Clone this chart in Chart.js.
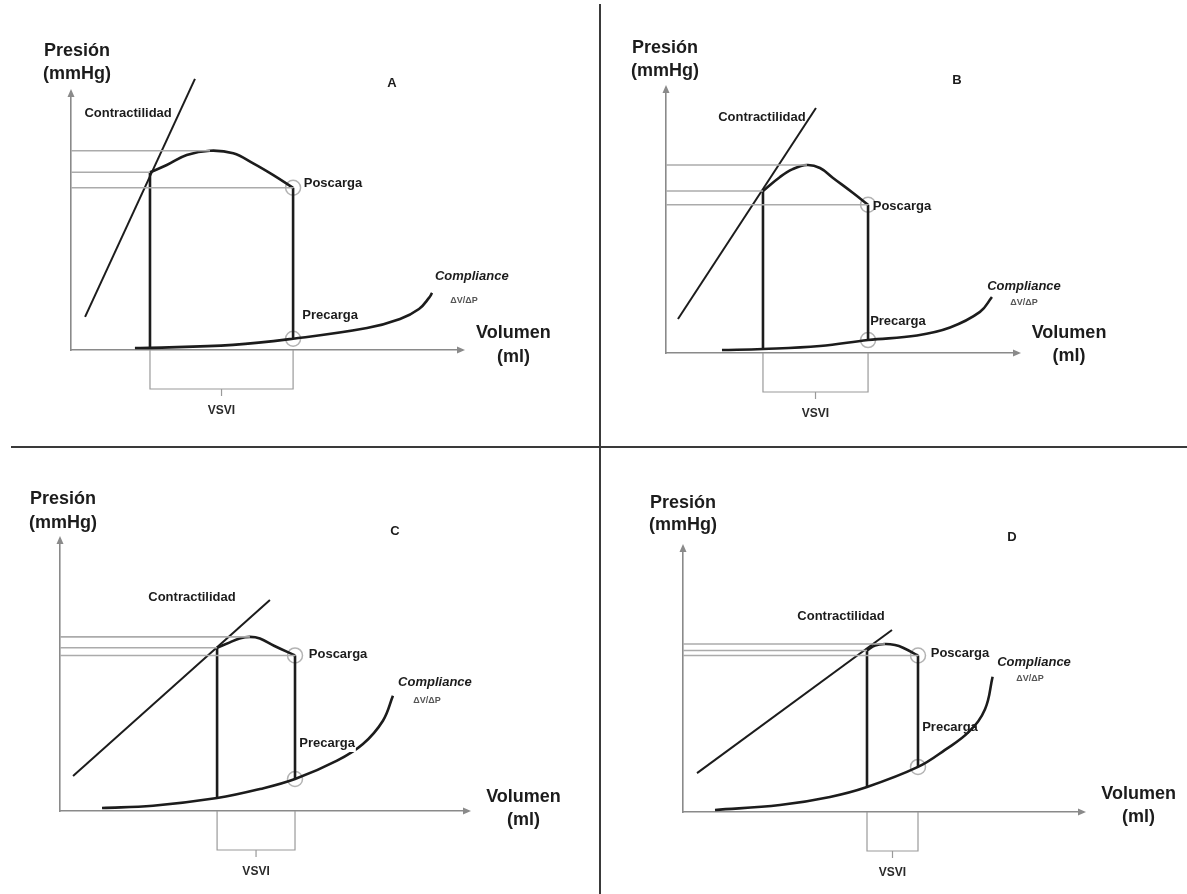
<!DOCTYPE html>
<html>
<head>
<meta charset="utf-8">
<script src="https://cdn.jsdelivr.net/npm/chart.js@4.4.1/dist/chart.umd.min.js"></script>
<style>
html,body{margin:0;padding:0;background:#fff;}
#wrap{position:relative;width:1187px;height:894px;overflow:hidden;background:#fff;}
#wrap canvas{position:absolute;left:0;top:0;}
.div-v{position:absolute;left:599px;top:4px;width:2px;height:890px;background:#3a3a3a;}
.div-h{position:absolute;left:11px;top:446px;width:1176px;height:2px;background:#3a3a3a;}
</style>
</head>
<body>
<div id="wrap">
  <div class="div-v"></div>
  <div class="div-h"></div>
  <canvas id="cA" width="1187" height="894"></canvas>
  <canvas id="cB" width="1187" height="894"></canvas>
  <canvas id="cC" width="1187" height="894"></canvas>
  <canvas id="cD" width="1187" height="894"></canvas>
</div>
<script>
// ===== DATA (volume in ml, pressure in mmHg; schematic values) =====
const panelNames = ['A', 'B', 'C', 'D'];
const axisLabels = { y: ['Presión', '(mmHg)'], x: ['Volumen', '(ml)'] };
const textLabels = { contract: 'Contractilidad', after: 'Poscarga', pre: 'Precarga', comp: 'Compliance', compSub: 'ΔV/ΔP', sv: 'VSVI' };
const volumeRange = [0, 200];
const pressureRange = [0, 160];

// Contractility (end-systolic pressure-volume line)
const espvrA = [[7.2, 20.5], [63.4, 168.1]];
const espvrB = [[6.8, 20.5], [85.2, 147.9]];
const espvrC = [[6.4, 20.6], [102.9, 124.1]];
const espvrD = [[7.0, 23.5], [104.5, 109.9]];

// Ejection phase (top of the loop)
const ejectA = [[40.4, 110.2], [49, 114.7], [59.2, 120.9], [71.1, 123.6], [83, 122], [93.2, 115.8], [103.5, 108.5], [113.6, 100.6]];
const ejectB = [[55.1, 97.8], [64.8, 106.3], [72, 111], [80.1, 113.5], [87.5, 111.7], [94.9, 105.7], [106.3, 96.6], [114.8, 89.5]];
const ejectC = [[77, 96], [83.3, 99.2], [88, 101.5], [93.1, 102.4], [98, 101.5], [104.9, 97.2], [115.2, 91.5]];
const ejectD = [[92, 97.5], [96, 100.5], [101, 101.4], [106, 100.8], [110, 99.2], [117.5, 94.5]];

// Isovolumetric relaxation (left side of loop)
const relaxA = [[40.4, 110.2], [40.4, 1.2]];
const relaxB = [[55.1, 97.8], [55.1, 2.4]];
const relaxC = [[77, 96], [77, 7.6]];
const relaxD = [[92, 97.5], [92, 15.1]];

// Isovolumetric contraction (right side of loop, preload -> afterload)
const isoContrA = [[113.6, 7.0], [113.6, 100.6]];
const isoContrB = [[114.8, 7.8], [114.8, 89.5]];
const isoContrC = [[115.2, 18.8], [115.2, 91.5]];
const isoContrD = [[117.5, 27.2], [117.5, 94.5]];

// Compliance (end-diastolic pressure-volume curve)
const complianceA = [[32.7, 1.2], [40.4, 1.3], [82.9, 3.2], [113.6, 7.0], [151.4, 13.6], [168.3, 19.2], [178, 25.4], [183.1, 32.3], [184.7, 35.4]];
const complianceB = [[31.8, 1.8], [55.1, 2.4], [87.5, 4.2], [114.8, 7.8], [142.6, 10.6], [161.4, 15.4], [178.4, 24.8], [185.2, 33.8]];
const complianceC = [[20.6, 1.8], [45.6, 3.1], [77, 7.6], [98, 12.9], [115.2, 18.8], [135.8, 29.6], [148.5, 39.4], [158.3, 53.1], [163.2, 67.8]];
const complianceD = [[16, 1.2], [48.5, 4.2], [73.5, 9.1], [92, 15.1], [117.5, 27.2], [131, 37.5], [143, 48.5], [151, 62], [154.8, 81.7]];

// ===== LAYOUT (pixel chart areas and label anchors, in data units) =====
const layouts = {
  A: { area: { left: 71, right: 462, top: 92, bottom: 350 },
       letter: [164.2, 165.6], presion: [3.1, 185.4], mmhg: [3.1, 171.2], volumen: [226.3, 10.5], ml: [226.3, -4.3],
       contract: [29.2, 147], after: [134, 103], pre: [132.5, 21.7], comp: [205, 45.9], compSub: [201, 30.4] },
  B: { area: { left: 666, right: 1018, top: 88, bottom: 353 },
       letter: [165.3, 164.8], presion: [-0.6, 184.2], mmhg: [-0.6, 170.3], volumen: [229, 12.1], ml: [229, -1.8],
       contract: [54.5, 142.2], after: [134.1, 88.2], pre: [131.8, 19.3], comp: [203.4, 39.9], compSub: [203.4, 30.2] },
  C: { area: { left: 60, right: 468, top: 539, bottom: 811 },
       letter: [164.2, 164.7], presion: [1.5, 183.5], mmhg: [1.5, 169.4], volumen: [227.2, 8.2], ml: [227.2, -5.3],
       contract: [64.7, 125.9], after: [136.3, 92.3], pre: [130.9, 40], comp: [183.8, 75.9], compSub: [179.9, 64.7] },
  D: { area: { left: 683, right: 1083, top: 547, bottom: 812 },
       letter: [164.5, 166], presion: [0, 186.6], mmhg: [0, 173.3], volumen: [227.8, 10.9], ml: [227.8, -3],
       contract: [79, 118.3], after: [138.5, 96], pre: [133.5, 51.3], comp: [175.5, 90.6], compSub: [173.5, 80.3] }
};
const preBoxed = { A: false, B: false, C: true, D: false };

const panelData = {
  A: { espvr: espvrA, eject: ejectA, relax: relaxA, iso: isoContrA, comp: complianceA },
  B: { espvr: espvrB, eject: ejectB, relax: relaxB, iso: isoContrB, comp: complianceB },
  C: { espvr: espvrC, eject: ejectC, relax: relaxC, iso: isoContrC, comp: complianceC },
  D: { espvr: espvrD, eject: ejectD, relax: relaxD, iso: isoContrD, comp: complianceD }
};

const FONT = '"Liberation Sans", Arial, Helvetica, sans-serif';
const INK = '#1c1c1c';
const AXIS = '#8a8a8a';
const REF = '#ababab';

const toXY = arr => arr.map(p => ({ x: p[0], y: p[1] }));

// Plugin: axis arrowheads, VSVI bracket, text labels
const decorPlugin = {
  id: 'decor',
  afterDatasetsDraw(chart) {
    const { ctx, scales: { x, y } } = chart;
    const name = chart.options.plugins.decor.name;
    const lay = layouts[name];
    const d = panelData[name];
    const px = v => x.getPixelForValue(v);
    const py = v => y.getPixelForValue(v);
    const x0 = px(volumeRange[0]), y0 = py(pressureRange[0]);
    const xe = px(volumeRange[1]), ye = py(pressureRange[1]);
    ctx.save();
    // arrowheads
    ctx.fillStyle = AXIS;
    ctx.beginPath(); ctx.moveTo(xe + 3, y0); ctx.lineTo(xe - 5, y0 - 3.5); ctx.lineTo(xe - 5, y0 + 3.5); ctx.closePath(); ctx.fill();
    ctx.beginPath(); ctx.moveTo(x0, ye - 3); ctx.lineTo(x0 - 3.5, ye + 5); ctx.lineTo(x0 + 3.5, ye + 5); ctx.closePath(); ctx.fill();
    // stroke-volume bracket
    const esv = d.relax[0][0], edv = d.iso[0][0];
    const bx1 = px(esv), bx2 = px(edv), by = y0 + 39, mid = (bx1 + bx2) / 2;
    ctx.strokeStyle = '#9a9a9a'; ctx.lineWidth = 1.2;
    ctx.beginPath();
    ctx.moveTo(bx1, y0); ctx.lineTo(bx1, by); ctx.lineTo(bx2, by); ctx.lineTo(bx2, y0);
    ctx.moveTo(mid, by); ctx.lineTo(mid, by + 7);
    ctx.stroke();
    ctx.fillStyle = '#2a2a2a';
    ctx.textAlign = 'center'; ctx.textBaseline = 'middle';
    ctx.font = 'bold 12px ' + FONT;
    ctx.fillText(textLabels.sv, mid, y0 + 61);
    // text labels
    const put = (txt, pos, font, color, boxed) => {
      ctx.font = font;
      const tx = px(pos[0]), ty = py(pos[1]);
      if (boxed) {
        const w = ctx.measureText(txt).width;
        ctx.fillStyle = '#fff';
        ctx.fillRect(tx - w / 2 - 1, ty - 9, w + 2, 18);
      }
      ctx.fillStyle = color || INK;
      ctx.fillText(txt, tx, ty);
    };
    put(name, lay.letter, 'bold 13px ' + FONT);
    put(axisLabels.y[0], lay.presion, 'bold 18px ' + FONT);
    put(axisLabels.y[1], lay.mmhg, 'bold 18px ' + FONT);
    put(axisLabels.x[0], lay.volumen, 'bold 18px ' + FONT);
    put(axisLabels.x[1], lay.ml, 'bold 18px ' + FONT);
    put(textLabels.contract, lay.contract, 'bold 13px ' + FONT);
    put(textLabels.after, lay.after, 'bold 13px ' + FONT);
    put(textLabels.pre, lay.pre, 'bold 13px ' + FONT, INK, preBoxed[name]);
    put(textLabels.comp, lay.comp, 'italic bold 13px ' + FONT);
    put(textLabels.compSub, lay.compSub, 'bold 9px ' + FONT, '#555');
    ctx.restore();
  }
};

function buildPanel(name) {
  const d = panelData[name];
  const lay = layouts[name];
  const top = d.eject.reduce((a, b) => (b[1] > a[1] ? b : a));
  const first = d.eject[0];
  const last = d.eject[d.eject.length - 1];
  const base = { showLine: true, pointRadius: 0, clip: false, fill: false, borderColor: INK };
  const ref = (p) => Object.assign({}, base, { data: [{ x: volumeRange[0], y: p[1] }, { x: p[0], y: p[1] }], borderColor: REF, borderWidth: 1.6 });
  const datasets = [
    ref(top), ref(first), ref(last),
    Object.assign({}, base, { label: 'Contractilidad', data: toXY(d.espvr), borderWidth: 2 }),
    Object.assign({}, base, { label: 'Compliance', data: toXY(d.comp), borderWidth: 2.6, tension: 0.4 }),
    Object.assign({}, base, { label: 'Relajación', data: toXY(d.relax), borderWidth: 2.6 }),
    Object.assign({}, base, { label: 'Contracción', data: toXY(d.iso), borderWidth: 2.6 }),
    Object.assign({}, base, { label: 'Eyección', data: toXY(d.eject), borderWidth: 2.6, tension: 0.4 }),
    { label: 'Puntos', data: [{ x: last[0], y: last[1] }, { x: d.iso[0][0], y: d.iso[0][1] }], showLine: false, clip: false,
      pointRadius: 7.5, pointBorderWidth: 1.5, pointBorderColor: '#b3b3b3', pointBackgroundColor: 'rgba(0,0,0,0)' }
  ];
  const W = 1187, H = 894;
  const axis = (min, max) => ({
    type: 'linear', min, max, display: true,
    grid: { display: false, drawTicks: false },
    ticks: { display: false },
    border: { display: true, color: AXIS, width: 1.6 }
  });
  return new Chart(document.getElementById('c' + name), {
    type: 'scatter',
    data: { datasets },
    options: {
      responsive: false, animation: false, events: [], devicePixelRatio: 1,
      layout: { padding: { left: lay.area.left, right: W - lay.area.right, top: lay.area.top, bottom: H - lay.area.bottom } },
      scales: { x: axis(volumeRange[0], volumeRange[1]), y: axis(pressureRange[0], pressureRange[1]) },
      plugins: { legend: { display: false }, tooltip: { enabled: false }, decor: { name } }
    },
    plugins: [decorPlugin]
  });
}

panelNames.forEach(buildPanel);
</script>
</body>
</html>
